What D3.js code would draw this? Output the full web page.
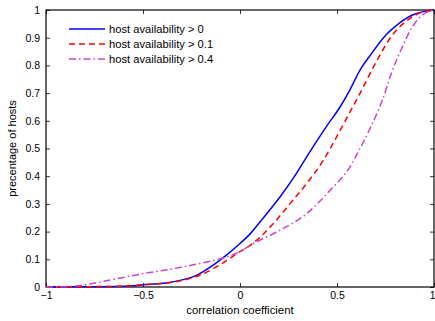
<!DOCTYPE html>
<html>
<head>
<meta charset="utf-8">
<script src="https://cdn.jsdelivr.net/npm/d3@7"></script>
<style>
  body { margin: 0; background: #fff; }
  text { font-family: "Liberation Sans", Arial, sans-serif; }
</style>
</head>
<body>
<div id="chart"></div>
<script>
// data
const xTicks = [-1, -0.5, 0, 0.5, 1];
const yTicks = [0, 0.1, 0.2, 0.3, 0.4, 0.5, 0.6, 0.7, 0.8, 0.9, 1];

const blueX = [-1, -0.8, -0.6, -0.5, -0.35, -0.225, -0.14, -0.07, 0, 0.05, 0.103, 0.206, 0.274, 0.36, 0.446, 0.514, 0.566, 0.62, 0.666, 0.752, 0.82, 0.889, 0.95, 1];
const blueY = [0, 0.001, 0.003, 0.008, 0.018, 0.042, 0.078, 0.115, 0.157, 0.19, 0.235, 0.325, 0.392, 0.488, 0.58, 0.648, 0.711, 0.785, 0.831, 0.91, 0.952, 0.982, 0.995, 1];

const redX = [-1, -0.8, -0.6, -0.5, -0.35, -0.225, -0.14, -0.07, 0, 0.052, 0.172, 0.258, 0.344, 0.43, 0.498, 0.567, 0.614, 0.7, 0.786, 0.854, 0.923, 1];
const redY = [0, 0.001, 0.003, 0.008, 0.017, 0.038, 0.065, 0.095, 0.128, 0.15, 0.229, 0.301, 0.374, 0.458, 0.542, 0.632, 0.693, 0.81, 0.91, 0.958, 0.988, 1];

const magX = [-1, -0.86, -0.77, -0.65, -0.517, -0.345, -0.174, -0.07, 0, 0.069, 0.206, 0.344, 0.464, 0.567, 0.614, 0.666, 0.734, 0.786, 0.837, 0.889, 0.94, 1];
const magY = [0, 0.003, 0.012, 0.028, 0.046, 0.066, 0.09, 0.108, 0.128, 0.157, 0.205, 0.265, 0.349, 0.434, 0.494, 0.566, 0.675, 0.783, 0.867, 0.94, 0.982, 1];

const labels = ["host availability > 0", "host availability > 0.1", "host availability > 0.4"];

const W = 435, H = 321;
const mLeft = 46, mRight = 434, mTop = 10, mBottom = 287;

const svg = d3.select("#chart").append("svg")
  .attr("width", W)
  .attr("height", H);

const x = d3.scaleLinear().domain([-1, 1]).range([mLeft, mRight]);
const y = d3.scaleLinear().domain([0, 1]).range([mBottom, mTop]);

svg.append("clipPath").attr("id", "clip")
  .append("rect")
  .attr("x", mLeft).attr("y", mTop - 2)
  .attr("width", mRight - mLeft).attr("height", mBottom - mTop + 4);

// axes, MATLAB style: box with ticks pointing inward
const styleAxis = g => {
  g.select(".domain").remove();
  g.selectAll(".tick line").attr("stroke", "#000").attr("stroke-width", 0.8);
  g.selectAll("text").attr("font-size", 10.5).attr("fill", "#000");
};

svg.append("g")
  .attr("transform", "translate(0," + mBottom + ")")
  .call(d3.axisBottom(x).tickValues(xTicks).tickSizeInner(-4).tickSizeOuter(0).tickPadding(5).tickFormat(d => d === 0 ? "0" : d3.format("")(d).replace("-", "\u2212")))
  .call(styleAxis)
  // last label sits at the window edge, keep it inside
  .selectAll(".tick text")
  .filter(d => d === 1)
  .attr("text-anchor", "end")
  .attr("dx", 1);

svg.append("g")
  .attr("transform", "translate(0," + mTop + ")")
  .call(d3.axisTop(x).tickValues(xTicks).tickSizeInner(-4).tickSizeOuter(0).tickFormat(""))
  .call(styleAxis);

svg.append("g")
  .attr("transform", "translate(" + mLeft + ",0)")
  .call(d3.axisLeft(y).tickValues(yTicks).tickSizeInner(-4).tickSizeOuter(0).tickPadding(6).tickFormat(d3.format("")))
  .call(styleAxis);

svg.append("g")
  .attr("transform", "translate(" + mRight + ",0)")
  .call(d3.axisRight(y).tickValues(yTicks).tickSizeInner(-4).tickSizeOuter(0).tickFormat(""))
  .call(styleAxis);

svg.append("rect")
  .attr("x", mLeft).attr("y", mTop)
  .attr("width", mRight - mLeft).attr("height", mBottom - mTop)
  .attr("fill", "none")
  .attr("stroke", "#000")
  .attr("stroke-width", 1.2);

// curves
const series = [
  { xs: blueX, ys: blueY, color: "#0000ff", dash: null },
  { xs: redX, ys: redY, color: "#ff0000", dash: "6,4" },
  { xs: magX, ys: magY, color: "#d040d0", dash: "7,3,1.5,3" }
];

const line = d3.line()
  .x(d => x(d[0]))
  .y(d => y(d[1]))
  .curve(d3.curveMonotoneX);

svg.append("g").attr("clip-path", "url(#clip)")
  .selectAll("path")
  .data(series)
  .enter()
  .append("path")
  .attr("d", s => line(s.xs.map((v, i) => [v, s.ys[i]])))
  .attr("fill", "none")
  .attr("stroke", s => s.color)
  .attr("stroke-width", 1.5)
  .attr("stroke-dasharray", s => s.dash);

// legend
const legend = svg.append("g");
series.forEach((s, i) => {
  const ly = 29 + i * 15;
  legend.append("line")
    .attr("x1", 69).attr("x2", 105)
    .attr("y1", ly).attr("y2", ly)
    .attr("stroke", s.color)
    .attr("stroke-width", 1.5)
    .attr("stroke-dasharray", s.dash);
  legend.append("text")
    .attr("x", 109).attr("y", ly + 4)
    .attr("font-size", 11.2)
    .text(labels[i]);
});

// axis titles
svg.append("text")
  .attr("x", 240).attr("y", 313.5)
  .attr("text-anchor", "middle")
  .attr("font-size", 11.4)
  .text("correlation coefficient");

svg.append("text")
  .attr("transform", "translate(16," + ((mTop + mBottom) / 2) + ") rotate(-90)")
  .attr("text-anchor", "middle")
  .attr("font-size", 11)
  .text("precentage of hosts");
</script>
</body>
</html>
